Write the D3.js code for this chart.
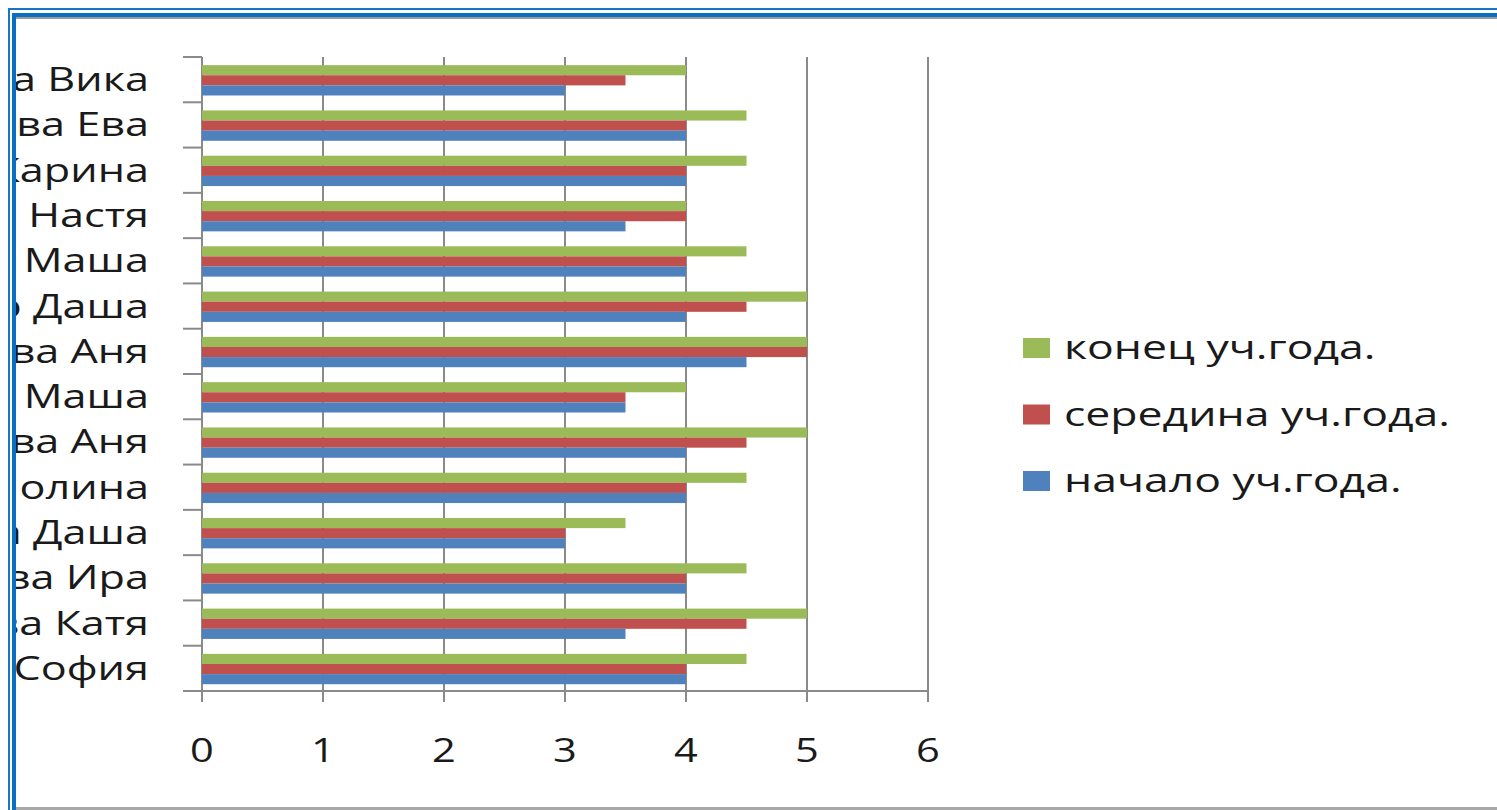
<!DOCTYPE html>
<html>
<head>
<meta charset="utf-8">
<script src="https://cdn.jsdelivr.net/npm/d3@7"></script>
<style>
  body { margin: 0; background: #fff; }
  text { font-family: "Open Sans", sans-serif; fill: #1a1a1a; }
</style>
</head>
<body>
<div id="chart"></div>
<script>
// data, top row first
var names = ["а Вика", "ова Ева", "Карина", "а Настя", " Маша", "о Даша", "ва Аня",
             " Маша", "ва Аня", "олина", "а Даша", "ва Ира", "ва Катя", "София"];
var konec    = [4, 4.5, 4.5, 4, 4.5, 5, 5, 4, 5, 4.5, 3.5, 4.5, 5, 4.5];
var seredina = [3.5, 4, 4, 4, 4, 4.5, 5, 3.5, 4.5, 4, 3, 4, 4.5, 4];
var nachalo  = [3, 4, 4, 3.5, 4, 4, 4.5, 3.5, 4, 4, 3, 4, 3.5, 4];
var seriesNames = ["конец уч.года.", "середина уч.года.", "начало уч.года."];
var seriesColors = ["#9bbb59", "#c0504d", "#4f81bd"];
var xTicks = [0, 1, 2, 3, 4, 5, 6];

var W = 1497, H = 810;
var stretch = 1.35;

var svg = d3.select('#chart').append('svg')
    .attr('width', W)
    .attr('height', H);

var x = d3.scaleLinear().domain([0, 6]).range([202, 928]);
var y = d3.scaleBand().domain(d3.range(names.length)).range([57, 691]).padding(0);
var inner = d3.scaleBand().domain([0, 1, 2])
    .range([y.bandwidth() * 0.18, y.bandwidth() * 0.85]).padding(0);

var rows = names.map(function(n, i) {
  return { name: n, vals: [konec[i], seredina[i], nachalo[i]] };
});

// grid lines (also act as ticks below the axis)
svg.append('g').selectAll('line')
  .data(xTicks)
  .join('line')
    .attr('x1', d => x(d)).attr('x2', d => x(d))
    .attr('y1', 57).attr('y2', 702)
    .attr('stroke', '#8a8a8a').attr('stroke-width', 2);

// bars
var groups = svg.append('g').selectAll('g')
  .data(rows)
  .join('g')
    .attr('transform', (d, i) => 'translate(0,' + y(i) + ')');

groups.selectAll('rect')
  .data(d => d.vals)
  .join('rect')
    .attr('x', x(0))
    .attr('y', (d, j) => inner(j))
    .attr('width', d => x(d) - x(0))
    .attr('height', inner.bandwidth())
    .attr('fill', (d, j) => seriesColors[j]);

// axes
svg.append('line')
  .attr('x1', x(0)).attr('x2', x(6))
  .attr('y1', 691).attr('y2', 691)
  .attr('stroke', '#8a8a8a').attr('stroke-width', 2);

svg.append('g').selectAll('line')
  .data(d3.range(names.length + 1))
  .join('line')
    .attr('x1', 183).attr('x2', x(0))
    .attr('y1', d => 57 + d * y.bandwidth())
    .attr('y2', d => 57 + d * y.bandwidth())
    .attr('stroke', '#8a8a8a').attr('stroke-width', 2);

// x tick labels
svg.append('g').selectAll('text')
  .data(xTicks)
  .join('text')
    .attr('transform', d => 'translate(' + x(d) + ',762) scale(1.3,1)')
    .attr('text-anchor', 'middle')
    .style('font-size', '32px')
    .text(d => d);

// category labels, cut by the frame on the left
svg.append('clipPath').attr('id', 'lblclip')
  .append('rect').attr('x', 16).attr('y', 0).attr('width', 200).attr('height', H);

svg.append('g').attr('clip-path', 'url(#lblclip)')
  .selectAll('text')
  .data(rows)
  .join('text')
    .attr('transform', (d, i) => 'translate(149,' + (y(i) + y.bandwidth() / 2 + 11.5) + ') scale(' + stretch + ',1)')
    .attr('text-anchor', 'end')
    .style('font-size', '32px')
    .style('white-space', 'pre')
    .text(d => d.name);

// legend
var legend = svg.append('g').selectAll('g')
  .data(seriesNames)
  .join('g')
    .attr('transform', (d, i) => 'translate(1023,' + (338 + i * 66.5) + ')');

legend.append('rect')
  .attr('width', 27).attr('height', 20)
  .attr('fill', (d, i) => seriesColors[i]);

legend.append('text')
  .attr('transform', 'translate(41,21) scale(' + stretch + ',1)')
  .style('font-size', '33px')
  .text(d => d);

// frame
svg.append('rect').attr('x', 8).attr('y', 8).attr('width', W).attr('height', 2).attr('fill', '#1a73c4');
svg.append('rect').attr('x', 8).attr('y', 8).attr('width', 2).attr('height', H).attr('fill', '#1a73c4');
svg.append('rect').attr('x', 13).attr('y', 13).attr('width', W).attr('height', 4).attr('fill', '#0a6fc2');
svg.append('rect').attr('x', 12).attr('y', 13).attr('width', 4).attr('height', H).attr('fill', '#0a6fc2');
svg.append('rect').attr('x', 16).attr('y', 17).attr('width', W).attr('height', 2).attr('fill', '#9a9a9a');
svg.append('rect').attr('x', 16).attr('y', 807).attr('width', W).attr('height', 3).attr('fill', '#a8a8a8');
</script>
</body>
</html>
